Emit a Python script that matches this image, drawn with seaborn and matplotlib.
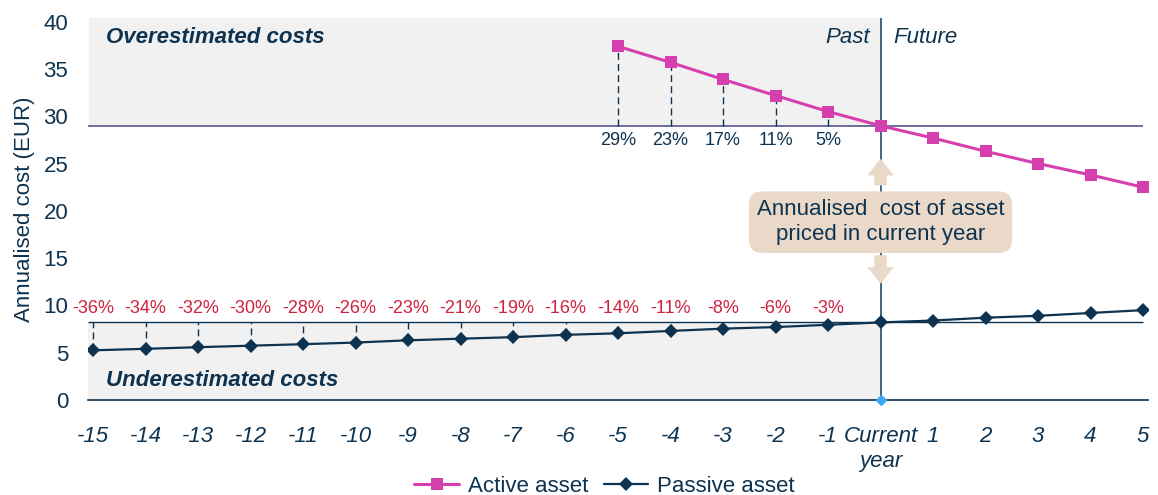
import pandas as pd
import matplotlib.pyplot as plt
import seaborn as sns
import warnings
warnings.filterwarnings('ignore')

# --- CONFIG ---
sns.set_theme(style="white")
plt.rcParams['font.family'] = ['Liberation Sans', 'DejaVu Sans']
NAVY = "#0d3350"
MAGENTA = "#d63fae"
RED = "#d0213f"
GREY = "#f1f1f1"
BEIGE = "#ead9c8"

# --- DATA ---
years = list(range(-15, 6))
tick_labels = [str(y) for y in range(-15, 0)] + ["Current\nyear"] + [str(y) for y in range(1, 6)]

active_years = [-5, -4, -3, -2, -1, 0, 1, 2, 3, 4, 5]
active_cost = [37.4, 35.7, 33.9, 32.2, 30.5, 29.0, 27.7, 26.3, 25.0, 23.8, 22.5]

passive_cost = [5.25, 5.41, 5.58, 5.74, 5.90, 6.07, 6.31, 6.48, 6.64, 6.89, 7.05,
                7.30, 7.54, 7.71, 7.95, 8.2, 8.4, 8.7, 8.9, 9.2, 9.5]

active_pct = ["29%", "23%", "17%", "11%", "5%"]
passive_pct = ["-36%", "-34%", "-32%", "-30%", "-28%", "-26%", "-23%", "-21%",
               "-19%", "-16%", "-14%", "-11%", "-8%", "-6%", "-3%"]

active_ref = active_cost[active_years.index(0)]
passive_ref = passive_cost[years.index(0)]

df_active = pd.DataFrame({'year': active_years, 'cost': active_cost})
df_passive = pd.DataFrame({'year': years, 'cost': passive_cost})

# --- FIGURE ---
fig = plt.figure(figsize=(11.58, 4.95), dpi=100)
ax = fig.add_axes([0.0758, 0.192, 0.9158, 0.7717])
YMAX = 40.4
ax.set_xlim(-15.1, 5.1)
ax.set_ylim(0, YMAX)

# shaded "past" zones
ax.fill_between([-15.08, 0], active_ref, YMAX, color=GREY, zorder=0, lw=0)
ax.fill_between([-15.2, 0], 0, passive_ref, color=GREY, zorder=0, lw=0)

# reference lines
ax.hlines(active_ref, -15.1, 5, color="#55558a", lw=1.2, zorder=1)
ax.hlines(passive_ref, -15.1, 5, color=NAVY, lw=1.0, zorder=1)
ax.vlines(0, 0, YMAX, color="#1f4e6e", lw=1.2, zorder=1)

# dashed drop lines
for y, c in zip(active_years[:5], active_cost[:5]):
    ax.vlines(y, active_ref, c, color=NAVY, lw=1, linestyles=(0, (5, 3)), zorder=2)
for y, c in zip(years[:15], passive_cost[:15]):
    ax.vlines(y, c, passive_ref, color=NAVY, lw=1, linestyles=(0, (5, 3)), zorder=2)

# series
sns.lineplot(data=df_active, x='year', y='cost', ax=ax, color=MAGENTA, lw=2.2,
             marker='s', markersize=8, markeredgewidth=0, label='Active asset', zorder=4)
sns.lineplot(data=df_passive, x='year', y='cost', ax=ax, color=NAVY, lw=1.6,
             marker='D', markersize=7, markeredgewidth=0, label='Passive asset', zorder=4)
ax.plot([0], [0], marker='D', color="#3fa9f5", markersize=5, zorder=5, clip_on=False)

# percentage labels
for y, t in zip(active_years[:5], active_pct):
    ax.text(y, active_ref - 0.7, t, ha='center', va='top', fontsize=13, color=NAVY)
for y, t in zip(years[:15], passive_pct):
    ax.text(y, passive_ref + 0.6, t, ha='center', va='bottom', fontsize=13, color=RED)

# zone labels
ax.text(-14.75, 38.3, "Overestimated costs", fontsize=16, fontweight='bold',
        fontstyle='italic', color=NAVY, va='center')
ax.text(-14.75, 2.1, "Underestimated costs", fontsize=16, fontweight='bold',
        fontstyle='italic', color=NAVY, va='center')
ax.text(-0.2, 38.3, "Past", fontsize=16, fontstyle='italic', color=NAVY, ha='right', va='center')
ax.text(0.25, 38.3, "Future", fontsize=16, fontstyle='italic', color=NAVY, ha='left', va='center')

# annotation box with arrows
arrow_style = "simple,head_width=1.6,head_length=1.0,tail_width=0.75"
ax.annotate("", xy=(0, 25.8), xytext=(0, 22.4),
            arrowprops=dict(arrowstyle=arrow_style, color=BEIGE, lw=0), zorder=3)
ax.annotate("", xy=(0, 12.0), xytext=(0, 15.6),
            arrowprops=dict(arrowstyle=arrow_style, color=BEIGE, lw=0), zorder=3)
ax.text(0, 18.8, "Annualised  cost of asset\npriced in current year", ha='center', va='center',
        fontsize=16, color=NAVY, linespacing=1.25, zorder=6,
        bbox=dict(boxstyle="round,pad=0.35,rounding_size=0.6", fc=BEIGE, ec='none'))

# axes styling
for s in ['left', 'right', 'top']:
    ax.spines[s].set_visible(False)
ax.spines['bottom'].set_color(NAVY)
ax.spines['bottom'].set_linewidth(1.2)
ax.set_xticks(years)
ax.set_xticklabels(tick_labels, fontsize=16, fontstyle='italic', color=NAVY)
ax.tick_params(axis='x', direction='out', length=8, width=1, color="#5a7890", pad=11)
ax.set_yticks(range(0, 41, 5))
ax.set_yticklabels([str(v) for v in range(0, 41, 5)], fontsize=16, color=NAVY)
ax.tick_params(axis='y', length=0, pad=14)
ax.set_xlabel("")
ax.set_ylabel("Annualised cost (EUR)", fontsize=16, color=NAVY, labelpad=6)
ax.grid(False)

ax.get_legend().remove()
h, l = ax.get_legend_handles_labels()
fig.legend(h, l, loc='lower center', bbox_to_anchor=(0.522, -0.045), ncol=2, frameon=False,
           fontsize=16, handlelength=2.0, columnspacing=0.7, handletextpad=0.4,
           labelcolor=NAVY)

plt.savefig('out.png', dpi=100)
plt.close()
